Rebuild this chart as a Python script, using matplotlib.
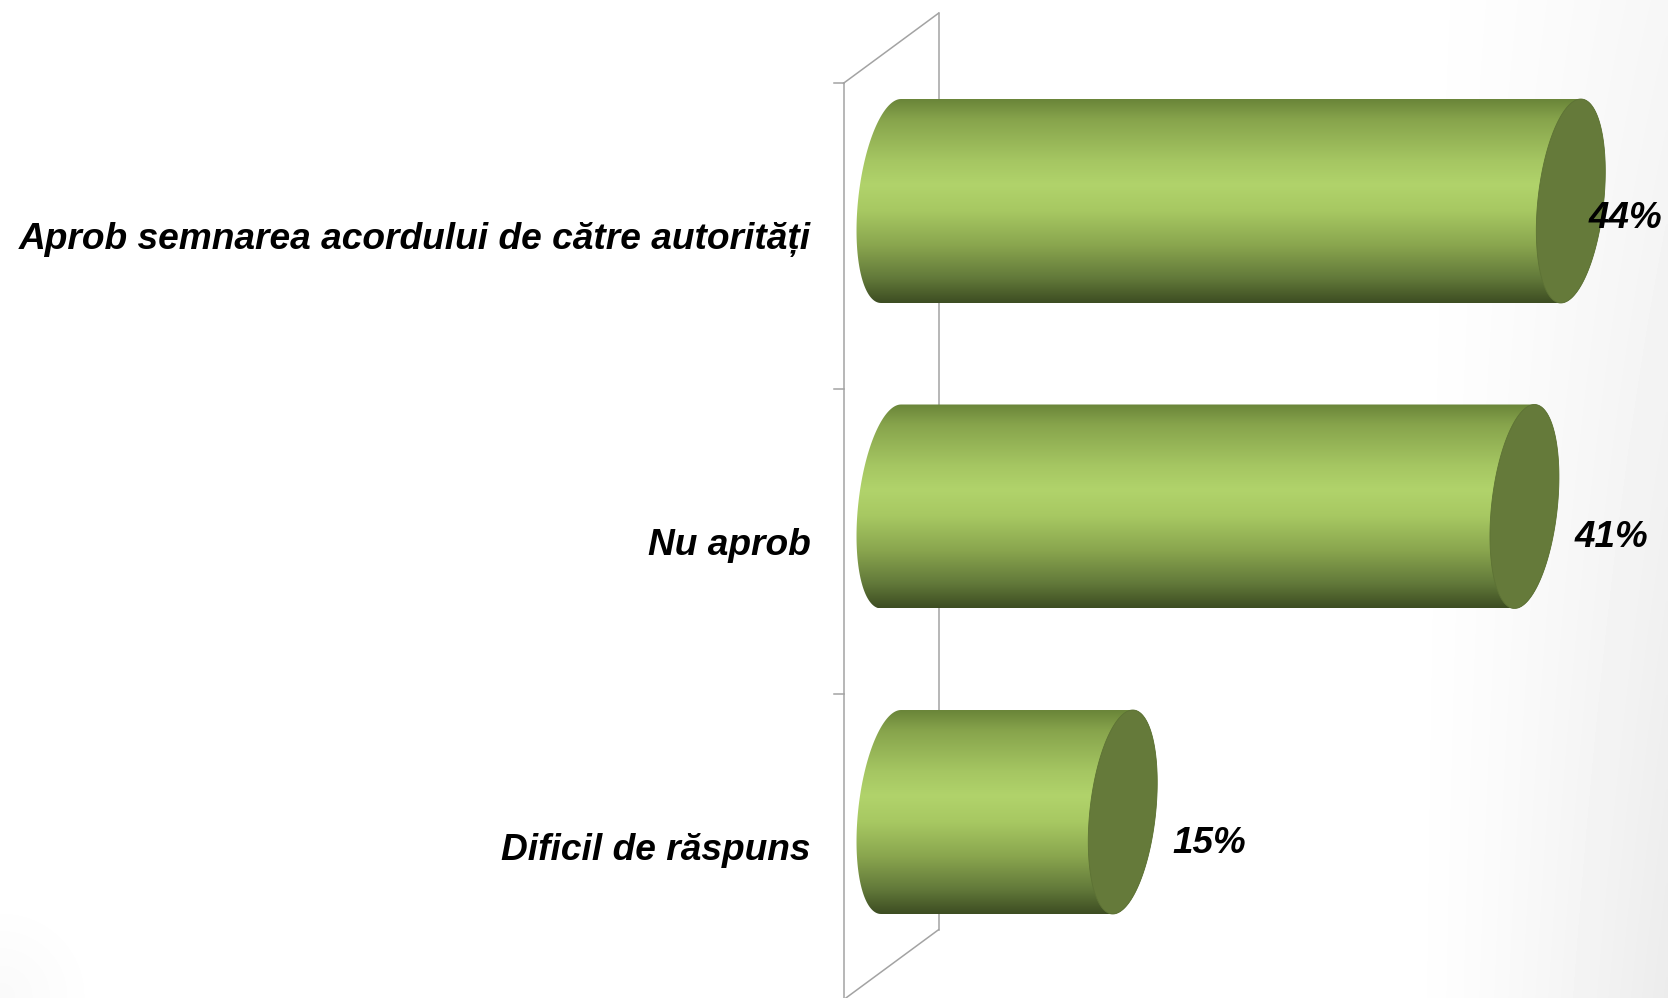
import numpy as np
import matplotlib
matplotlib.use("Agg")
import matplotlib.pyplot as plt
from matplotlib.patches import Polygon
from matplotlib.colors import LinearSegmentedColormap

# date
categorii = ["Aprob semnarea acordului de către autorități", "Nu aprob", "Dificil de răspuns"]
valori = [44, 41, 15]
etichete = ["44%", "41%", "15%"]

W, H = 1668, 998
PX = 15.45          # pixeli pe procent
X0 = 891            # pozitia lui 0% (mijlocul adancimii)
PAS = 305.5         # pixeli intre categorii
Y0 = 201            # centrul primei categorii

fig = plt.figure(figsize=(W / 100, H / 100), dpi=100)

# fundal cu o umbra gri discreta in dreapta
bg = fig.add_axes([0, 0, 1, 1], zorder=0)
gx = np.linspace(0, 1, 400)
gy = np.linspace(0, 1, 240)
XX, YY = np.meshgrid(gx, gy)
umbra = np.clip((XX - 0.84) / 0.16, 0, 1) ** 1.3 * (0.45 + 0.55 * YY)
umbra += np.clip(1 - np.hypot(XX / 0.06, (1 - YY) / 0.1), 0, 1) * 0.3
bg.imshow(1 - 0.075 * umbra, cmap="gray", vmin=0, vmax=1, aspect="auto",
          extent=(0, 1, 1, 0), interpolation="bilinear")
bg.set_axis_off()

ax = fig.add_axes([0, 0, 1, 1], zorder=1)
ax.patch.set_alpha(0)
ax.set_xlim(-X0 / PX, (W - X0) / PX)
ax.set_ylim((H - Y0) / PAS, -Y0 / PAS)
ax.set_axis_off()

dx = 47.5 / PX      # jumatate din adancime, pe x
dy = 35 / PAS       # jumatate din adancime, pe y
a = 33 / PX         # semiaxa orizontala a capacului
s = 10 / PX         # inclinarea capacului
b = 102 / PAS       # raza cilindrului (pe verticala)

# cadrul 3D
gri = "#a3a3a3"
lw = 1.1
n = len(categorii)
ax.plot([-dx, -dx], [-0.5 + dy, n - 0.5 + dy], color=gri, lw=lw, zorder=1)
ax.plot([dx, dx], [-0.5 - dy, n - 0.5 - dy], color=gri, lw=lw, zorder=1)
ax.plot([-dx, dx], [-0.5 + dy, -0.5 - dy], color=gri, lw=lw, zorder=1)
ax.plot([-dx, dx], [n - 0.5 + dy, n - 0.5 - dy], color=gri, lw=lw, zorder=1)
for k in range(n + 1):
    yk = k - 0.5 + dy
    ax.plot([-dx - 10 / PX, -dx], [yk, yk], color=gri, lw=lw, zorder=1)

grad = LinearSegmentedColormap.from_list("cil", [
    (0.00, "#6a8539"), (0.10, "#87a44c"), (0.30, "#a5c662"),
    (0.42, "#b1d36b"), (0.55, "#a7c862"), (0.72, "#89a54e"),
    (0.88, "#62793a"), (1.00, "#3d4d22")])
gradient = grad(np.linspace(0, 1, 256))[:, None, :3]


def elipsa(cx, cy, t):
    return np.column_stack([cx + a * np.cos(t) + s * np.sin(t), cy - b * np.sin(t)])


for i, (v, et) in enumerate(zip(valori, etichete)):
    c = i
    stanga = elipsa(0, c, np.linspace(np.pi / 2, 3 * np.pi / 2, 80))
    dreapta = elipsa(v, c, np.linspace(-np.pi / 2, np.pi / 2, 80))
    corp = Polygon(np.vstack([stanga, dreapta]), closed=True,
                   facecolor="none", edgecolor="none", zorder=2)
    ax.add_patch(corp)
    im = ax.imshow(gradient, extent=(-a - s - 0.5, v + a + s + 0.5, c + b, c - b),
                   aspect="auto", origin="upper", interpolation="bilinear", zorder=2)
    im.set_clip_path(corp)
    capac = Polygon(elipsa(v, c, np.linspace(0, 2 * np.pi, 160)), closed=True,
                    facecolor="#657a3a", edgecolor="#5d7235", lw=0.6, zorder=3)
    ax.add_patch(capac)

    ax.text(-dx - 33 / PX, c + dy, categorii[i], ha="right", va="center_baseline",
            fontsize=26.7, fontweight="bold", fontstyle="italic",
            family="Liberation Sans", color="black", zorder=4)

    t = ax.text(v + 50 / PX, c + 0.09, et, ha="left", va="center_baseline",
                fontsize=26.5, fontweight="bold", fontstyle="italic",
                family="Liberation Sans", color="black", zorder=4)
    fig.canvas.draw()
    bb = t.get_window_extent()
    if bb.x1 > W - 6:
        x_nou = ax.transData.inverted().transform((bb.x0 - (bb.x1 - (W - 6)), 0))[0]
        t.set_x(x_nou)
        t.set_y(c + 0.045)

fig.savefig("out.png", dpi=100)
